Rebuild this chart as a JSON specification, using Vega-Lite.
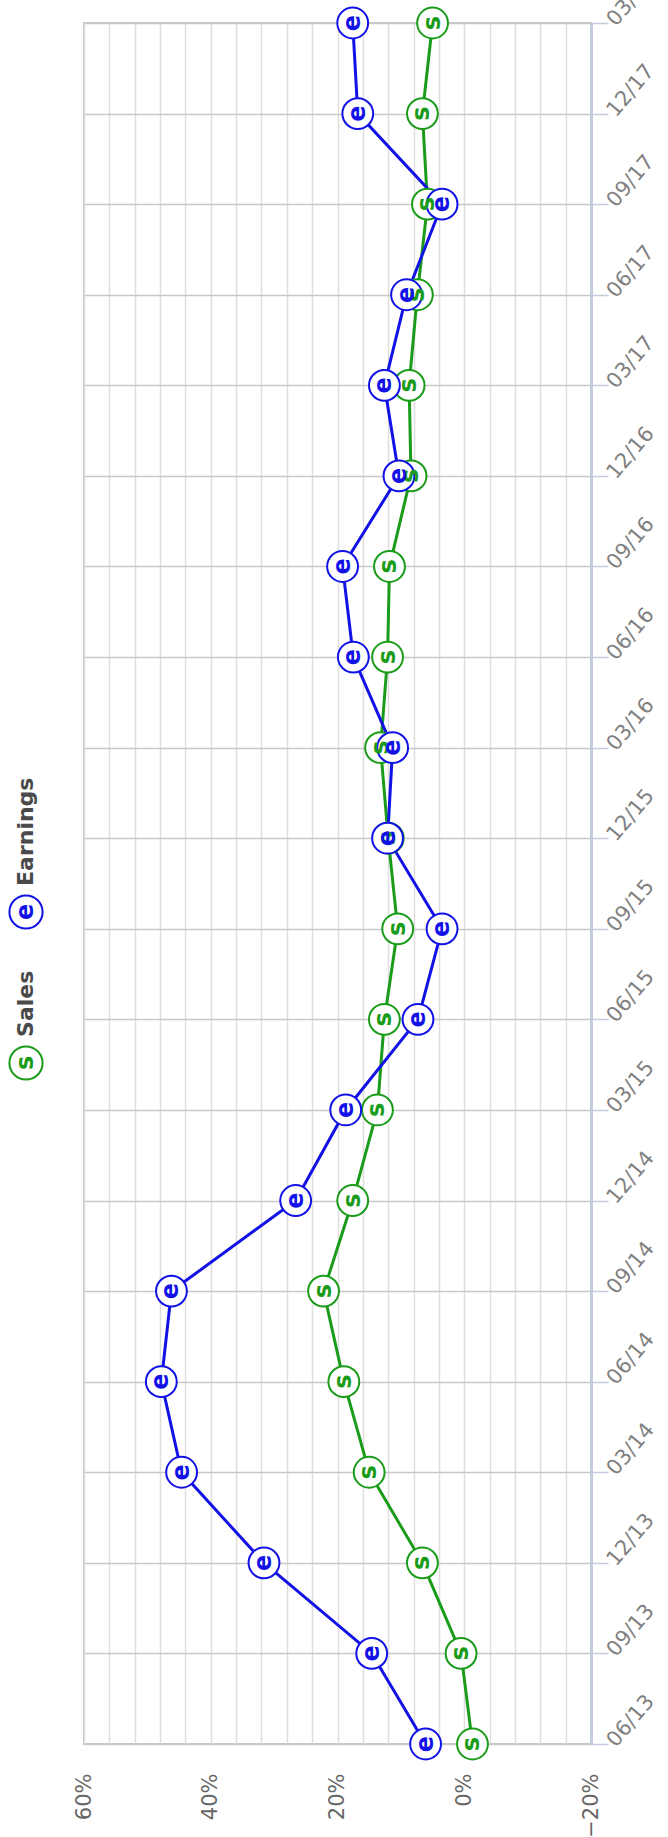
{
  "$schema": "https://vega.github.io/schema/vega-lite/v6.json",
  "autosize": {"type": "pad"},
  "padding": {"left": 0, "top": -32, "right": 0, "bottom": 0},
  "background": "white",
  "spacing": 20,
  "config": {"view": {"stroke": null}, "font": "DejaVu Sans"},
  "resolve": {"scale": {"x": "independent", "y": "independent", "color": "independent"}},
  "datasets": {
    "series": [
      {"quarter": "06/13", "date": "2013-06-01", "series": "Sales", "sym": "s", "value": -1.3},
      {"quarter": "09/13", "date": "2013-09-01", "series": "Sales", "sym": "s", "value": 0.5},
      {"quarter": "12/13", "date": "2013-12-01", "series": "Sales", "sym": "s", "value": 6.6},
      {"quarter": "03/14", "date": "2014-03-01", "series": "Sales", "sym": "s", "value": 15.0},
      {"quarter": "06/14", "date": "2014-06-01", "series": "Sales", "sym": "s", "value": 19.0},
      {"quarter": "09/14", "date": "2014-09-01", "series": "Sales", "sym": "s", "value": 22.2},
      {"quarter": "12/14", "date": "2014-12-01", "series": "Sales", "sym": "s", "value": 17.6},
      {"quarter": "03/15", "date": "2015-03-01", "series": "Sales", "sym": "s", "value": 13.7},
      {"quarter": "06/15", "date": "2015-06-01", "series": "Sales", "sym": "s", "value": 12.6},
      {"quarter": "09/15", "date": "2015-09-01", "series": "Sales", "sym": "s", "value": 10.5},
      {"quarter": "12/15", "date": "2015-12-01", "series": "Sales", "sym": "s", "value": 12.0},
      {"quarter": "03/16", "date": "2016-03-01", "series": "Sales", "sym": "s", "value": 13.2},
      {"quarter": "06/16", "date": "2016-06-01", "series": "Sales", "sym": "s", "value": 12.1},
      {"quarter": "09/16", "date": "2016-09-01", "series": "Sales", "sym": "s", "value": 11.8},
      {"quarter": "12/16", "date": "2016-12-01", "series": "Sales", "sym": "s", "value": 8.4},
      {"quarter": "03/17", "date": "2017-03-01", "series": "Sales", "sym": "s", "value": 8.7},
      {"quarter": "06/17", "date": "2017-06-01", "series": "Sales", "sym": "s", "value": 7.4},
      {"quarter": "09/17", "date": "2017-09-01", "series": "Sales", "sym": "s", "value": 5.8},
      {"quarter": "12/17", "date": "2017-12-01", "series": "Sales", "sym": "s", "value": 6.6},
      {"quarter": "03/18", "date": "2018-03-01", "series": "Sales", "sym": "s", "value": 5.0},
      {"quarter": "06/13", "date": "2013-06-01", "series": "Earnings", "sym": "e", "value": 6.1},
      {"quarter": "09/13", "date": "2013-09-01", "series": "Earnings", "sym": "e", "value": 14.6},
      {"quarter": "12/13", "date": "2013-12-01", "series": "Earnings", "sym": "e", "value": 31.6},
      {"quarter": "03/14", "date": "2014-03-01", "series": "Earnings", "sym": "e", "value": 44.6},
      {"quarter": "06/14", "date": "2014-06-01", "series": "Earnings", "sym": "e", "value": 47.8},
      {"quarter": "09/14", "date": "2014-09-01", "series": "Earnings", "sym": "e", "value": 46.2},
      {"quarter": "12/14", "date": "2014-12-01", "series": "Earnings", "sym": "e", "value": 26.6},
      {"quarter": "03/15", "date": "2015-03-01", "series": "Earnings", "sym": "e", "value": 18.7},
      {"quarter": "06/15", "date": "2015-06-01", "series": "Earnings", "sym": "e", "value": 7.3},
      {"quarter": "09/15", "date": "2015-09-01", "series": "Earnings", "sym": "e", "value": 3.5},
      {"quarter": "12/15", "date": "2015-12-01", "series": "Earnings", "sym": "e", "value": 12.1},
      {"quarter": "03/16", "date": "2016-03-01", "series": "Earnings", "sym": "e", "value": 11.3},
      {"quarter": "06/16", "date": "2016-06-01", "series": "Earnings", "sym": "e", "value": 17.5},
      {"quarter": "09/16", "date": "2016-09-01", "series": "Earnings", "sym": "e", "value": 19.2},
      {"quarter": "12/16", "date": "2016-12-01", "series": "Earnings", "sym": "e", "value": 10.3},
      {"quarter": "03/17", "date": "2017-03-01", "series": "Earnings", "sym": "e", "value": 12.6},
      {"quarter": "06/17", "date": "2017-06-01", "series": "Earnings", "sym": "e", "value": 9.1},
      {"quarter": "09/17", "date": "2017-09-01", "series": "Earnings", "sym": "e", "value": 3.5},
      {"quarter": "12/17", "date": "2017-12-01", "series": "Earnings", "sym": "e", "value": 16.8},
      {"quarter": "03/18", "date": "2018-03-01", "series": "Earnings", "sym": "e", "value": 17.6}
    ],
    "legend": [
      {"series": "Sales", "sym": "s", "rank": 1},
      {"series": "Earnings", "sym": "e", "rank": 2}
    ]
  },
  "hconcat": [
    {
      "width": 52,
      "height": 1721,
      "data": {"name": "legend"},
      "encoding": {
        "y": {"field": "rank", "type": "quantitative", "scale": {"domain": [-3.51, 7.887], "nice": false, "zero": false}, "axis": null},
        "color": {"field": "series", "type": "nominal", "scale": {"domain": ["Sales", "Earnings"], "range": ["#1a9c1a", "#1212e6"]}, "legend": null}
      },
      "layer": [
        {"mark": {"type": "point", "shape": "circle", "filled": false, "fill": "white", "fillOpacity": 1, "strokeWidth": 2, "size": 1100, "opacity": 1}},
        {"mark": {"type": "text", "angle": 270, "fontWeight": "bold", "fontSize": 24, "align": "center", "baseline": "middle"}, "encoding": {"text": {"field": "sym"}}},
        {"mark": {"type": "text", "angle": 270, "fontWeight": "bold", "fontSize": 22, "align": "left", "baseline": "middle", "dx": 26}, "encoding": {"text": {"field": "series"}, "color": {"value": "#4a4a4a"}}}
      ]
    },
    {
      "width": 507,
      "height": 1721,
      "data": {"name": "series"},
      "view": {"stroke": "#c6c6c6", "strokeWidth": 2},
      "encoding": {
        "y": {
          "field": "quarter", "type": "ordinal",
          "scale": {"type": "point", "padding": 0, "domain": ["03/18", "12/17", "09/17", "06/17", "03/17", "12/16", "09/16", "06/16", "03/16", "12/15", "09/15", "06/15", "03/15", "12/14", "09/14", "06/14", "03/14", "12/13", "09/13", "06/13"]},
          "axis": {"orient": "right", "title": null, "grid": true, "gridColor": "#c8c8c8", "gridWidth": 1.5, "domainColor": "#c3cbdd", "domainWidth": 3, "tickColor": "#c3cbdd", "tickSize": 17, "tickWidth": 1.5, "labelAngle": -50, "labelAlign": "left", "labelBaseline": "middle", "labelPadding": 3, "labelFontSize": 21, "labelColor": "#808080", "labelOverlap": false}
        },
        "x": {
          "field": "value", "type": "quantitative",
          "scale": {"domain": [-20, 60], "reverse": true, "nice": false, "zero": false},
          "axis": {"orient": "bottom", "title": null, "values": [-20, -16, -12, -8, -4, 0, 4, 8, 12, 16, 20, 24, 28, 32, 36, 40, 44, 48, 52, 56, 60], "grid": true, "gridColor": "#dedede", "gridWidth": 1.5, "ticks": false, "domain": false, "labelAngle": 270, "labelAlign": "right", "labelBaseline": "middle", "labelPadding": 29, "labelFontSize": 21, "labelColor": "#666666", "labelOverlap": false, "labelFlush": false, "labelExpr": "datum.value % 20 == 0 ? (datum.value < 0 ? '−' + abs(datum.value) : datum.value) + '%' : ''"}
        },
        "color": {"field": "series", "type": "nominal", "scale": {"domain": ["Sales", "Earnings"], "range": ["#1a9c1a", "#1212e6"]}, "legend": null}
      },
      "layer": [
        {"mark": {"type": "line", "strokeWidth": 3}, "encoding": {"order": {"field": "date", "type": "temporal"}}},
        {"mark": {"type": "point", "shape": "circle", "filled": false, "fill": "white", "fillOpacity": 1, "strokeWidth": 2, "size": 950, "opacity": 1}},
        {"mark": {"type": "text", "angle": 270, "fontWeight": "bold", "fontSize": 24, "align": "center", "baseline": "middle"}, "encoding": {"text": {"field": "sym"}}}
      ]
    }
  ]
}
